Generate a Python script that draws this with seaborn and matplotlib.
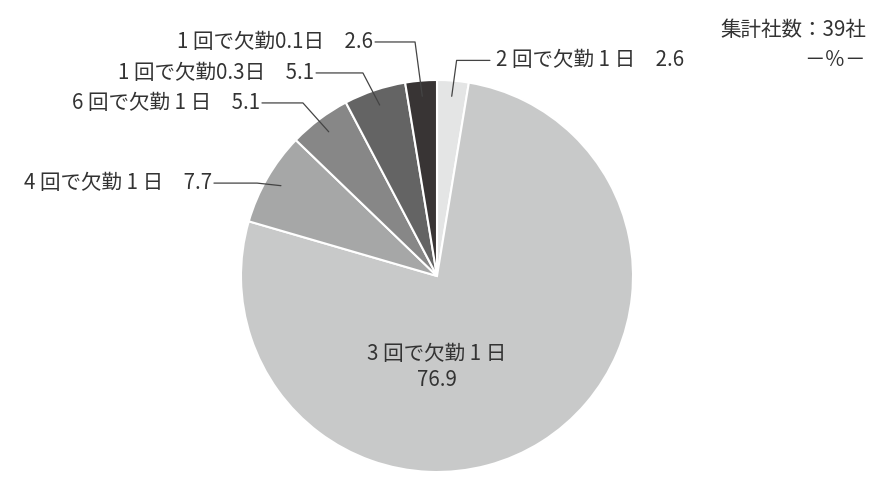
import numpy as np
import matplotlib
matplotlib.use("Agg")
import matplotlib.pyplot as plt
import seaborn as sns

# 欠勤の扱い（集計社数：39社）
categories = ["2 回で欠勤 1 日", "3 回で欠勤 1 日", "4 回で欠勤 1 日",
              "6 回で欠勤 1 日", "1 回で欠勤0.3日", "1 回で欠勤0.1日"]
values = [2.6, 76.9, 7.7, 5.1, 5.1, 2.6]
value_labels = ["2.6", "76.9", "7.7", "5.1", "5.1", "2.6"]
colors = ["#e4e5e5", "#c8c9c9", "#a6a7a7", "#878787", "#646464", "#383434"]

# 引き出し線の折れ点と線の終わり（データ座標、半径=1）
elbows = [(0.10, 1.10), None, (-0.918, 0.474), (-0.684, 0.883), (-0.378, 1.036), (-0.112, 1.194)]
line_ends = [0.27, None, -1.138, -0.893, -0.617, -0.316]

sns.set_theme(style="white")
plt.rcParams['font.family'] = ['Noto Sans CJK JP', 'DejaVu Sans']

fig = plt.figure(figsize=(8.9, 4.97), dpi=100)
ax = fig.add_axes([(437 - 196) / 890, (497 - 276 - 196) / 497, 392 / 890, 392 / 497])

wedges, _ = ax.pie(values, colors=colors, startangle=90, counterclock=False,
                   wedgeprops=dict(edgecolor="white", linewidth=1.5))
ax.set_xlim(-1, 1)
ax.set_ylim(-1, 1)
ax.set_aspect("equal")

fs = 14.8
col = "#333333"
for i, w in enumerate(wedges):
    ang = np.deg2rad((w.theta1 + w.theta2) / 2)
    if elbows[i] is None:
        ax.text(0, -0.40, categories[i], ha="center", va="center", fontsize=fs, color=col)
        ax.text(0, -0.53, value_labels[i], ha="center", va="center", fontsize=fs, color=col)
        continue
    ax0 = 0.92 * np.cos(ang)
    ay0 = 0.92 * np.sin(ang)
    ex, ey = elbows[i]
    xe = line_ends[i]
    ax.plot([ax0, ex, xe], [ay0, ey, ey], color="#444444", lw=0.9, clip_on=False)
    label = categories[i] + "\u3000" + value_labels[i]
    if xe > 0:
        ax.text(xe + 0.03, ey, label, ha="left", va="center", fontsize=fs, color=col)
    else:
        ax.text(xe - 0.01, ey, label, ha="right", va="center", fontsize=fs, color=col)

fig.text(866 / 890, 1 - 30 / 497, "集計社数：39社", ha="right", va="center", fontsize=fs, color=col)
fig.text(866 / 890, 1 - 60 / 497, "－％－", ha="right", va="center", fontsize=fs, color=col)

fig.savefig("out.png", dpi=100)
